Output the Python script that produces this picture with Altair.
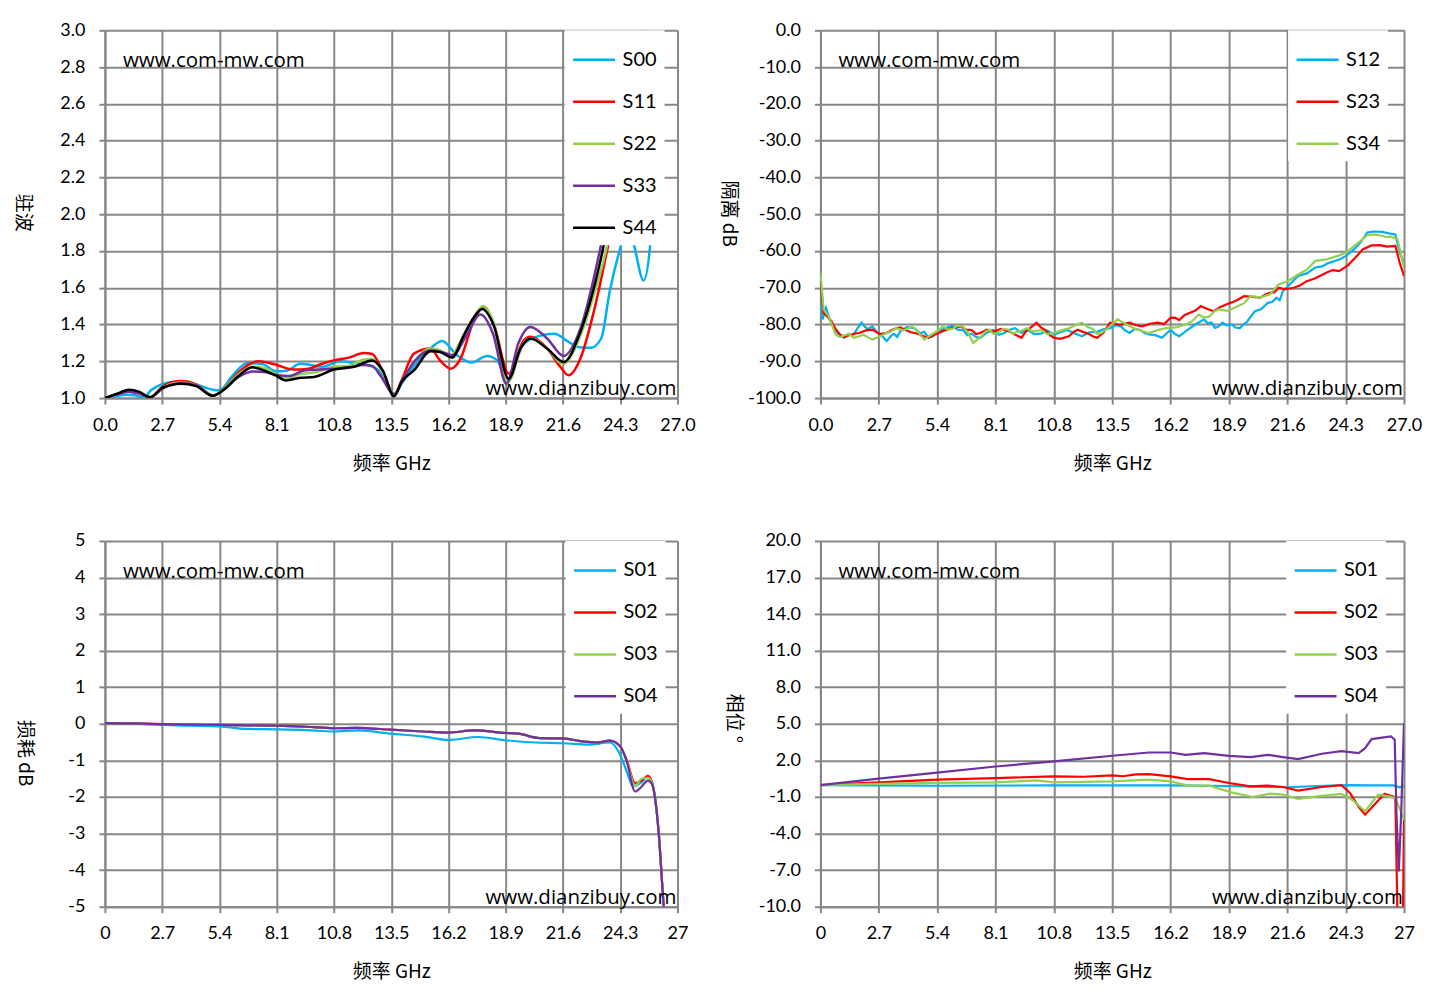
import altair as alt
import pandas as pd

# ---- shared axis ticks
freq_ticks = [0, 2.7, 5.4, 8.1, 10.8, 13.5, 16.2, 18.9, 21.6, 24.3, 27.0]
site_top = "www.com-mw.com"
site_bottom = "www.dianzibuy.com"

# ---- panel 1: VSWR (驻波)
vswr_names = ["S00", "S11", "S22", "S33", "S44"]
vswr_colors = ["#00B0F0", "#FF0000", "#92D050", "#7030A0", "#000000"]
s00_f = [0, 0.5, 1.0, 1.4, 1.8, 2.2, 2.7, 3.2, 3.6, 4.4, 5.1, 5.4, 6.0, 6.7, 7.4, 8.1, 8.6, 9.2, 9.7, 10.2,
         11.1, 11.8, 12.4, 12.9, 13.3, 13.65, 14.0, 14.6, 15.35, 15.9, 16.6, 17.3, 18.0, 18.5, 18.96, 19.6,
         20.2, 21.2, 21.8, 22.3, 22.9, 23.4, 23.8, 24.3, 24.6, 24.9, 25.4, 25.7, 26.0, 26.2, 26.3]
s00_v = [1.0, 1.01, 1.018, 1.015, 1.003, 1.045, 1.075, 1.088, 1.09, 1.07, 1.045, 1.042, 1.12, 1.19, 1.185,
         1.145, 1.15, 1.187, 1.18, 1.17, 1.2, 1.19, 1.18, 1.15, 1.08, 1.024, 1.08, 1.178, 1.27, 1.31, 1.233,
         1.193, 1.229, 1.205, 1.096, 1.27, 1.327, 1.35, 1.31, 1.278, 1.273, 1.324, 1.578, 1.815, 1.92, 1.85,
         1.64, 1.82, 2.4, 2.9, 3.3]
s11_f = [0, 0.5, 1.1, 1.6, 2.15, 2.7, 3.2, 3.6, 4.3, 5.1, 5.6, 6.3, 7.2, 7.6, 8.1, 8.9, 9.6, 10.2, 10.8,
         11.5, 12.2, 12.6, 13.0, 13.65, 14.0, 14.57, 15.35, 15.8, 16.3, 16.77, 17.4, 17.87, 18.33, 19.04,
         19.75, 20.06, 20.85, 21.47, 21.86, 22.42, 23.05, 23.7, 24.5, 25.3, 26.0]
s11_v = [1.0, 1.02, 1.035, 1.025, 1.005, 1.06, 1.088, 1.093, 1.075, 1.013, 1.05, 1.14, 1.2, 1.195, 1.18,
         1.155, 1.16, 1.185, 1.205, 1.22, 1.245, 1.24, 1.17, 1.02, 1.1, 1.242, 1.27, 1.205, 1.16, 1.215,
         1.424, 1.496, 1.405, 1.133, 1.314, 1.333, 1.27, 1.17, 1.124, 1.215, 1.469, 1.815, 2.3, 2.8, 3.3]
s22_f = [0, 0.5, 1.1, 1.6, 2.15, 2.7, 3.2, 3.6, 4.3, 5.1, 5.6, 6.3, 7.0, 7.6, 8.1, 8.6, 9.2, 9.9, 10.8,
         11.5, 12.2, 12.6, 13.0, 13.65, 14.0, 14.6, 15.35, 15.8, 16.3, 16.9, 17.4, 17.8, 18.33, 19.0, 19.75,
         20.1, 20.85, 21.6, 22.42, 23.05, 23.65, 24.5, 25.3, 26.0]
s22_v = [1.0, 1.02, 1.04, 1.03, 1.006, 1.055, 1.08, 1.085, 1.07, 1.015, 1.05, 1.13, 1.17, 1.16, 1.13,
         1.11, 1.13, 1.14, 1.17, 1.175, 1.21, 1.213, 1.16, 1.02, 1.09, 1.2, 1.27, 1.26, 1.23, 1.34, 1.44,
         1.5, 1.41, 1.087, 1.3, 1.325, 1.27, 1.185, 1.34, 1.56, 1.815, 2.4, 2.9, 3.3]
s33_f = [0, 0.5, 1.1, 1.6, 2.15, 2.7, 3.2, 3.6, 4.3, 5.1, 5.6, 6.3, 7.0, 7.6, 8.1, 8.7, 9.4, 10.1, 10.8,
         11.5, 12.2, 12.6, 13.0, 13.65, 14.0, 14.6, 15.35, 15.9, 16.4, 17.0, 17.7, 18.3, 18.93, 19.5, 20.06,
         20.85, 21.63, 22.42, 23.36, 24.3, 25.2, 26.0]
s33_v = [1.0, 1.02, 1.035, 1.025, 1.005, 1.05, 1.075, 1.08, 1.068, 1.013, 1.045, 1.115, 1.145, 1.14,
         1.125, 1.12, 1.15, 1.155, 1.16, 1.165, 1.18, 1.175, 1.12, 1.02, 1.09, 1.2, 1.26, 1.25, 1.233, 1.33,
         1.455, 1.35, 1.078, 1.3, 1.387, 1.324, 1.229, 1.378, 1.815, 2.4, 2.95, 3.4]
s44_f = [0, 0.5, 1.15, 1.6, 2.13, 2.7, 3.1, 3.58, 4.3, 5.07, 5.6, 6.3, 6.95, 7.5, 8.1, 8.52, 9.2, 9.86,
         10.8, 11.3, 11.74, 12.6, 13.1, 13.63, 14.0, 14.57, 15.35, 15.8, 16.37, 16.92, 17.4, 17.79, 18.33,
         19.04, 19.6, 20.06, 20.85, 21.63, 22.42, 23.05, 23.5, 24.4, 25.2, 26.0]
s44_v = [1.0, 1.02, 1.045, 1.035, 1.004, 1.055, 1.07, 1.078, 1.065, 1.013, 1.045, 1.12, 1.167, 1.15,
         1.12, 1.096, 1.11, 1.115, 1.155, 1.165, 1.17, 1.205, 1.15, 1.01, 1.09, 1.15, 1.255, 1.25, 1.22,
         1.34, 1.44, 1.484, 1.396, 1.105, 1.27, 1.324, 1.27, 1.196, 1.36, 1.596, 1.82, 2.4, 2.9, 3.3]
vswr_ticks = [1.0, 1.2, 1.4, 1.6, 1.8, 2.0, 2.2, 2.4, 2.6, 2.8, 3.0]

# ---- panel 2: isolation (隔离 dB)
iso_names = ["S12", "S23", "S34"]
iso_colors = ["#00B0F0", "#FF0000", "#92D050"]
s12_f = [0, 0.1, 0.26, 0.45, 0.7, 0.9, 1.1, 1.3, 1.5, 1.7, 1.9, 2.05, 2.2, 2.4, 2.6, 2.85, 3.07, 3.25, 3.4,
         3.55, 3.7, 4.0, 4.36, 4.6, 4.8, 5.0, 5.2, 5.4, 5.6, 5.85, 6.1, 6.35, 6.6, 6.8, 7.0, 7.2, 7.4, 7.7,
         8.0, 8.25, 8.5, 8.75, 9.0, 9.3, 9.55, 9.9, 10.2, 10.5, 10.8, 11.1, 11.4, 11.75, 12.1, 12.45, 12.8,
         13.1, 13.4, 13.65, 13.9, 14.1, 14.3, 14.55, 14.8, 15.0, 15.2, 15.5, 15.8, 16.0, 16.2, 16.4, 16.6,
         16.85, 17.1, 17.4, 17.75, 17.9, 18.1, 18.25, 18.4, 18.6, 18.8, 19.05, 19.2, 19.4, 19.55, 19.7, 19.9,
         20.1, 20.4, 20.7, 20.9, 21.1, 21.25, 21.4, 21.7, 22.1, 22.5, 22.9, 23.2, 23.5, 24.0, 24.3, 24.7,
         25.0, 25.3, 25.6, 26.0, 26.3, 26.6, 26.8, 27.0]
s12_v = [-68, -78.6, -75.5, -79, -81.8, -82.8, -83.6, -82.6, -83, -81.2, -79.5, -80.6, -81.2, -80.5, -82,
         -83.1, -84.5, -83.2, -82.5, -83.4, -81.8, -80.7, -81, -82.4, -82, -83.6, -83.2, -82.1, -81.5, -80.8,
         -80.3, -81.4, -81.5, -82.9, -82.5, -83.4, -83.6, -82.2, -81.5, -82.8, -82.3, -81.4, -81, -82.2,
         -81.4, -82.6, -82.5, -81.6, -82.7, -82.1, -81.5, -82.4, -83.2, -82.1, -82, -81.3, -81, -80.2, -80.5,
         -81.6, -82.3, -81.2, -81.5, -82.3, -82.7, -82.9, -83.6, -82.5, -81.4, -82.6, -83.2, -82.1, -81,
         -79.8, -78.6, -79.6, -79.5, -80.9, -80.6, -79.5, -80.2, -80, -80.8, -81, -80.1, -79.5, -77.9,
         -76.4, -75.8, -74.1, -73.9, -72.7, -73.4, -70.9, -69.2, -66.8, -66.1, -64.5, -64.2, -63.3, -62.3,
         -61.4, -59.5, -57.6, -55, -54.7, -54.8, -55.2, -55.5, -60.5, -63.2]
s23_f = [0, 0.15, 0.5, 0.7, 0.9, 1.1, 1.3, 1.55, 1.8, 2.1, 2.4, 2.75, 3.07, 3.3, 3.5, 3.7, 3.9, 4.2, 4.5,
         4.75, 5.0, 5.3, 5.66, 6.1, 6.5, 6.75, 7.0, 7.2, 7.4, 7.7, 8.0, 8.35, 8.7, 9.0, 9.3, 9.5, 9.7, 10.0,
         10.2, 10.4, 10.6, 10.8, 11.1, 11.5, 11.7, 11.9, 12.15, 12.4, 12.6, 12.8, 13.1, 13.4, 13.85, 14.3,
         14.6, 14.9, 15.25, 15.6, 15.9, 16.2, 16.4, 16.6, 16.85, 17.1, 17.35, 17.6, 17.9, 18.2, 18.5, 18.8,
         19.2, 19.6, 20.0, 20.35, 20.6, 20.8, 21.0, 21.2, 21.5, 21.9, 22.2, 22.5, 22.9, 23.4, 23.7, 24.0,
         24.4, 24.8, 25.1, 25.5, 25.9, 26.2, 26.6, 26.8, 27.0]
s23_v = [-68.6, -76.8, -79, -81.2, -82.7, -83.4, -83, -82.5, -82.3, -81.6, -81.4, -82.6, -82.3, -81.5, -81,
         -80.8, -81.4, -82.1, -82.5, -83.1, -83.6, -82.7, -81.8, -80.9, -80.5, -81.4, -81.5, -82.6, -82.3,
         -81.4, -82, -81.2, -81.8, -82.7, -83.6, -81.9, -81, -79.5, -80.8, -81.5, -82.8, -83.6, -83.9,
         -83.2, -82.1, -81.4, -82, -82.5, -83.2, -83.6, -82.2, -79.5, -80.1, -79.5, -80.2, -80.5, -79.8,
         -79.5, -79.9, -78.2, -78.1, -78.8, -77.4, -76.8, -76.2, -75, -75.8, -76.4, -75.2, -74.5, -73.6,
         -72.3, -72.5, -72.7, -71.8, -71.4, -71.2, -70, -70.4, -70, -69.3, -68.2, -67.4, -65.9, -65.2,
         -65.5, -63.9, -61.5, -59.5, -58.5, -58.4, -58.8, -58.6, -63.2, -66.8]
s34_f = [0, 0.15, 0.4, 0.7, 0.9, 1.1, 1.3, 1.55, 1.8, 2.0, 2.2, 2.4, 2.7, 3.0, 3.25, 3.5, 3.85, 4.25, 4.5,
         4.8, 5.0, 5.2, 5.45, 5.66, 5.9, 6.1, 6.35, 6.6, 6.85, 7.06, 7.25, 7.4, 7.6, 7.8, 8.0, 8.2, 8.45,
         8.7, 8.9, 9.1, 9.3, 9.55, 9.85, 10.2, 10.5, 10.8, 11.15, 11.5, 11.8, 12.1, 12.35, 12.6, 12.8, 13.0,
         13.4, 13.75, 14.1, 14.5, 14.85, 15.2, 15.6, 16.0, 16.45, 16.9, 17.2, 17.5, 17.75, 18.0, 18.2, 18.4,
         18.85, 19.3, 19.6, 19.9, 20.35, 20.8, 21.0, 21.2, 21.6, 22.1, 22.5, 22.9, 23.4, 24.0, 24.3, 24.7,
         25.0, 25.3, 25.6, 25.9, 26.2, 26.4, 26.7, 27.0]
s34_v = [-65.9, -75.9, -78, -82.7, -83.4, -83, -82.6, -83.6, -83.2, -82.8, -83.5, -84.1, -83.4, -82.5,
         -81.9, -81, -81.6, -80.5, -81.9, -84.1, -83.3, -82.5, -81.6, -80.5, -81.4, -81.2, -80.3, -80.6,
         -82.4, -85, -84.1, -83.5, -82.1, -81.4, -82.5, -82.3, -81.2, -81.4, -82.6, -82, -81.7, -81, -81.9,
         -81.5, -82.6, -82.3, -81.6, -81, -80.2, -79.5, -80.6, -81.2, -82.5, -82.3, -80.4, -78.6, -79.8,
         -81, -81.7, -82.3, -81.5, -81, -80.8, -80, -79.1, -77.3, -78.1, -77.8, -76.5, -75.9, -76.3, -75,
         -74.2, -72.3, -72.6, -71.8, -70.4, -69.1, -68.3, -66.4, -65.1, -62.7, -62.3, -61.2, -60.5, -58.6,
         -57.2, -55.7, -55.5, -55.8, -56.2, -56.1, -56.8, -64.5]
iso_ticks = [0, -10, -20, -30, -40, -50, -60, -70, -80, -90, -100]

# ---- panel 3: loss (损耗 dB)
loss_names = ["S01", "S02", "S03", "S04"]
loss_colors = ["#00B0F0", "#FF0000", "#92D050", "#7030A0"]
l01_f = [0, 1.5, 2.7, 4.0, 5.4, 6.66, 8.1, 9.5, 10.8, 11.9, 13.5, 15.06, 16.2, 17.6, 18.9, 20.3, 21.6,
         22.8, 23.8, 24.3, 24.6, 24.9, 25.3, 25.6, 25.8, 26.1, 26.35, 26.5]
l01_v = [0.02, 0, -0.03, -0.05, -0.07, -0.14, -0.15, -0.17, -0.21, -0.18, -0.27, -0.35, -0.44, -0.36,
         -0.45, -0.51, -0.53, -0.57, -0.51, -0.85, -1.3, -1.71, -1.6, -1.44, -1.62, -2.89, -5, -6]
lxx_f = [0, 1.5, 2.7, 4.0, 5.4, 6.7, 8.1, 9.5, 10.8, 11.8, 13.5, 15.0, 16.2, 17.4, 18.9, 19.5, 20.5,
         21.6, 22.5, 23.2, 23.8, 24.3, 24.6, 25.0, 25.3, 25.6, 25.8, 26.1, 26.35, 26.5]
l02_v = [0.02, 0.01, -0.01, -0.02, -0.03, -0.04, -0.05, -0.08, -0.12, -0.11, -0.16, -0.21, -0.24, -0.18,
         -0.25, -0.27, -0.39, -0.4, -0.48, -0.51, -0.46, -0.62, -0.98, -1.62, -1.55, -1.42, -1.6, -2.89, -5, -6]
l03_v = [0.02, 0.01, -0.01, -0.02, -0.03, -0.04, -0.05, -0.08, -0.12, -0.11, -0.16, -0.21, -0.24, -0.18,
         -0.25, -0.27, -0.39, -0.4, -0.48, -0.51, -0.46, -0.62, -1.0, -1.7, -1.5, -1.48, -1.62, -2.89, -5, -6]
l04_v = [0.02, 0.01, -0.01, -0.02, -0.03, -0.04, -0.05, -0.08, -0.12, -0.11, -0.16, -0.21, -0.24, -0.18,
         -0.25, -0.27, -0.39, -0.4, -0.48, -0.51, -0.46, -0.62, -1.02, -1.85, -1.72, -1.55, -1.65, -2.89, -5, -6]
loss_ticks = [5, 4, 3, 2, 1, 0, -1, -2, -3, -4, -5]

# ---- panel 4: phase (相位 °)
p01_f = [0, 5.4, 10.8, 16.2, 18.9, 20.0, 21.6, 23.0, 24.3, 25.5, 26.5, 26.8, 27.0]
p01_v = [-0.02, -0.08, -0.05, -0.05, -0.1, -0.15, -0.2, -0.1, -0.02, -0.05, -0.05, -0.2, -0.1]
p02_f = [0, 2.7, 5.4, 8.1, 10.8, 12.2, 13.5, 14.0, 14.6, 15.2, 16.2, 17.0, 18.0, 18.9, 19.9, 20.7, 21.4,
         22.1, 23.2, 24.1, 24.5, 24.9, 25.2, 25.7, 26.1, 26.5, 26.6, 26.7, 26.95, 27.0]
p02_v = [-0.02, 0.2, 0.42, 0.55, 0.69, 0.66, 0.77, 0.7, 0.85, 0.88, 0.69, 0.47, 0.47, 0.15, -0.13, -0.07,
         -0.18, -0.48, -0.18, -0.02, -0.67, -1.8, -2.45, -1.49, -0.73, -0.95, -1.2, -11, -11, -2.85]
p03_f = [0, 2.7, 5.4, 8.1, 10.0, 10.8, 13.5, 15.2, 16.2, 17.0, 18.0, 19.0, 20.0, 20.8, 21.4, 22.1, 23.0,
         24.1, 24.6, 25.2, 25.8, 26.3, 26.6, 27.0]
p03_v = [-0.02, 0.08, 0.15, 0.2, 0.36, 0.2, 0.28, 0.42, 0.28, -0.07, -0.07, -0.62, -1.0, -0.73, -0.81,
         -1.16, -0.95, -0.75, -1.22, -2.17, -0.81, -0.95, -1.1, -2.85]
p04_f = [0, 2.7, 5.4, 8.1, 10.8, 13.5, 15.2, 16.2, 16.9, 17.75, 18.9, 19.9, 20.7, 21.4, 22.1, 23.2, 24.1,
         24.9, 25.2, 25.5, 26.4, 26.57, 26.65, 26.76, 26.87, 27.0]
p04_v = [-0.02, 0.5, 1.0, 1.5, 1.92, 2.38, 2.65, 2.65, 2.46, 2.6, 2.38, 2.27, 2.46, 2.27, 2.1, 2.55, 2.76,
         2.6, 3.0, 3.75, 3.96, 3.7, -2.3, -7.1, -2.3, 5.05]
phase_ticks = [20, 17, 14, 11, 8, 5, 2, -1, -4, -7, -10]


def hyphen(fmt):
    return "replace(format(datum.value, '" + fmt + "'), '\u2212', '-')"


def panel(names, colors, freqs, vals, ydom, yticks, yfmt, xfmt, ytitle, tx, ty, w, h, legx, lw, interp):
    rows = []
    for n, fs, vs in zip(names, freqs, vals):
        rows += [{"f": f, "v": v, "s": n} for f, v in zip(fs, vs)]
    df = pd.DataFrame(rows)
    lines = alt.Chart(df).mark_line(clip=True, strokeWidth=lw, interpolate=interp).encode(
        x=alt.X("f:Q", scale=alt.Scale(domain=[0, 27], nice=False, zero=False),
                axis=alt.Axis(values=freq_ticks, labelExpr=hyphen(xfmt), title="频率 GHz", titleY=65,
                              titleBaseline="middle", labelFlush=False, labelOverlap=False)),
        y=alt.Y("v:Q", scale=alt.Scale(domain=ydom, nice=False, zero=False),
                axis=alt.Axis(values=yticks, labelExpr=hyphen(yfmt), title=ytitle, titleAngle=90,
                              titleX=tx, titleY=ty, titleAlign="center", titleBaseline="middle",
                              labelFlush=False, labelOverlap=False)),
        color=alt.Color("s:N", scale=alt.Scale(domain=names, range=colors),
                        legend=alt.Legend(title=None, orient="none", legendX=legx, legendY=0,
                                          fillColor="white", padding=7, symbolType="stroke",
                                          symbolSize=1764, symbolStrokeWidth=2.5, labelFont="Lato",
                                          labelFontSize=20, labelOffset=6, rowPadding=9)),
    )
    t1 = alt.Chart(pd.DataFrame({"t": [site_top]})).mark_text(
        align="left", baseline="middle", font="Open Sans", fontSize=20.5, color="black"
    ).encode(x=alt.value(18), y=alt.value(31), text="t:N")
    t2 = alt.Chart(pd.DataFrame({"t": [site_bottom]})).mark_text(
        align="right", baseline="middle", font="Open Sans", fontSize=20.5, color="black"
    ).encode(x=alt.value(w - 1), y=alt.value(h - 9), text="t:N")
    return alt.layer(lines, t1, t2).properties(width=w, height=h)


p1 = panel(vswr_names, vswr_colors, [s00_f, s11_f, s22_f, s33_f, s44_f],
           [s00_v, s11_v, s22_v, s33_v, s44_v], [1, 3], vswr_ticks, ".1f", ".1f",
           "驻波", -82, 182, 573, 368, 460, 2.5, "monotone")
p2 = panel(iso_names, iso_colors, [s12_f, s23_f, s34_f], [s12_v, s23_v, s34_v],
           [-100, 0], iso_ticks, ".1f", ".1f", "隔离 dB", -92, 183, 584, 368, 468, 2.2, "linear")
p3 = panel(loss_names, loss_colors, [l01_f, lxx_f, lxx_f, lxx_f], [l01_v, l02_v, l03_v, l04_v],
           [-5, 5], loss_ticks, "d", ".1~f", "损耗 dB", -80, 212, 573, 366, 461, 2.2, "monotone")
p4 = panel(loss_names, loss_colors, [p01_f, p02_f, p03_f, p04_f], [p01_v, p02_v, p03_v, p04_v],
           [-10, 20], phase_ticks, ".1f", ".1~f", "相位 °", -87, 177, 584, 366, 466, 2.2, "linear")

chart = alt.concat(p1, p2, p3, p4, columns=2, spacing={"row": 143, "column": 143},
                   bounds="flush", align="each").resolve_scale(
    color="independent", x="independent", y="independent"
).resolve_legend(color="independent").properties(
    padding={"left": 4, "top": 12, "right": 0, "bottom": 2}
).configure_view(stroke="transparent").configure_axis(
    gridColor="#878787", gridWidth=2, gridOpacity=1, domainColor="#878787", domainWidth=2,
    tickColor="#878787", tickWidth=2, tickSize=6, labelFont="Lato", labelFontSize=18,
    labelColor="black", labelPadding=12, titleFont="Noto Sans CJK SC", titleFontSize=19,
    titleFontWeight="normal", titleColor="black"
).configure_axisY(labelPadding=14)

chart.save("out.html", embed_options={"renderer": "svg", "actions": False})
